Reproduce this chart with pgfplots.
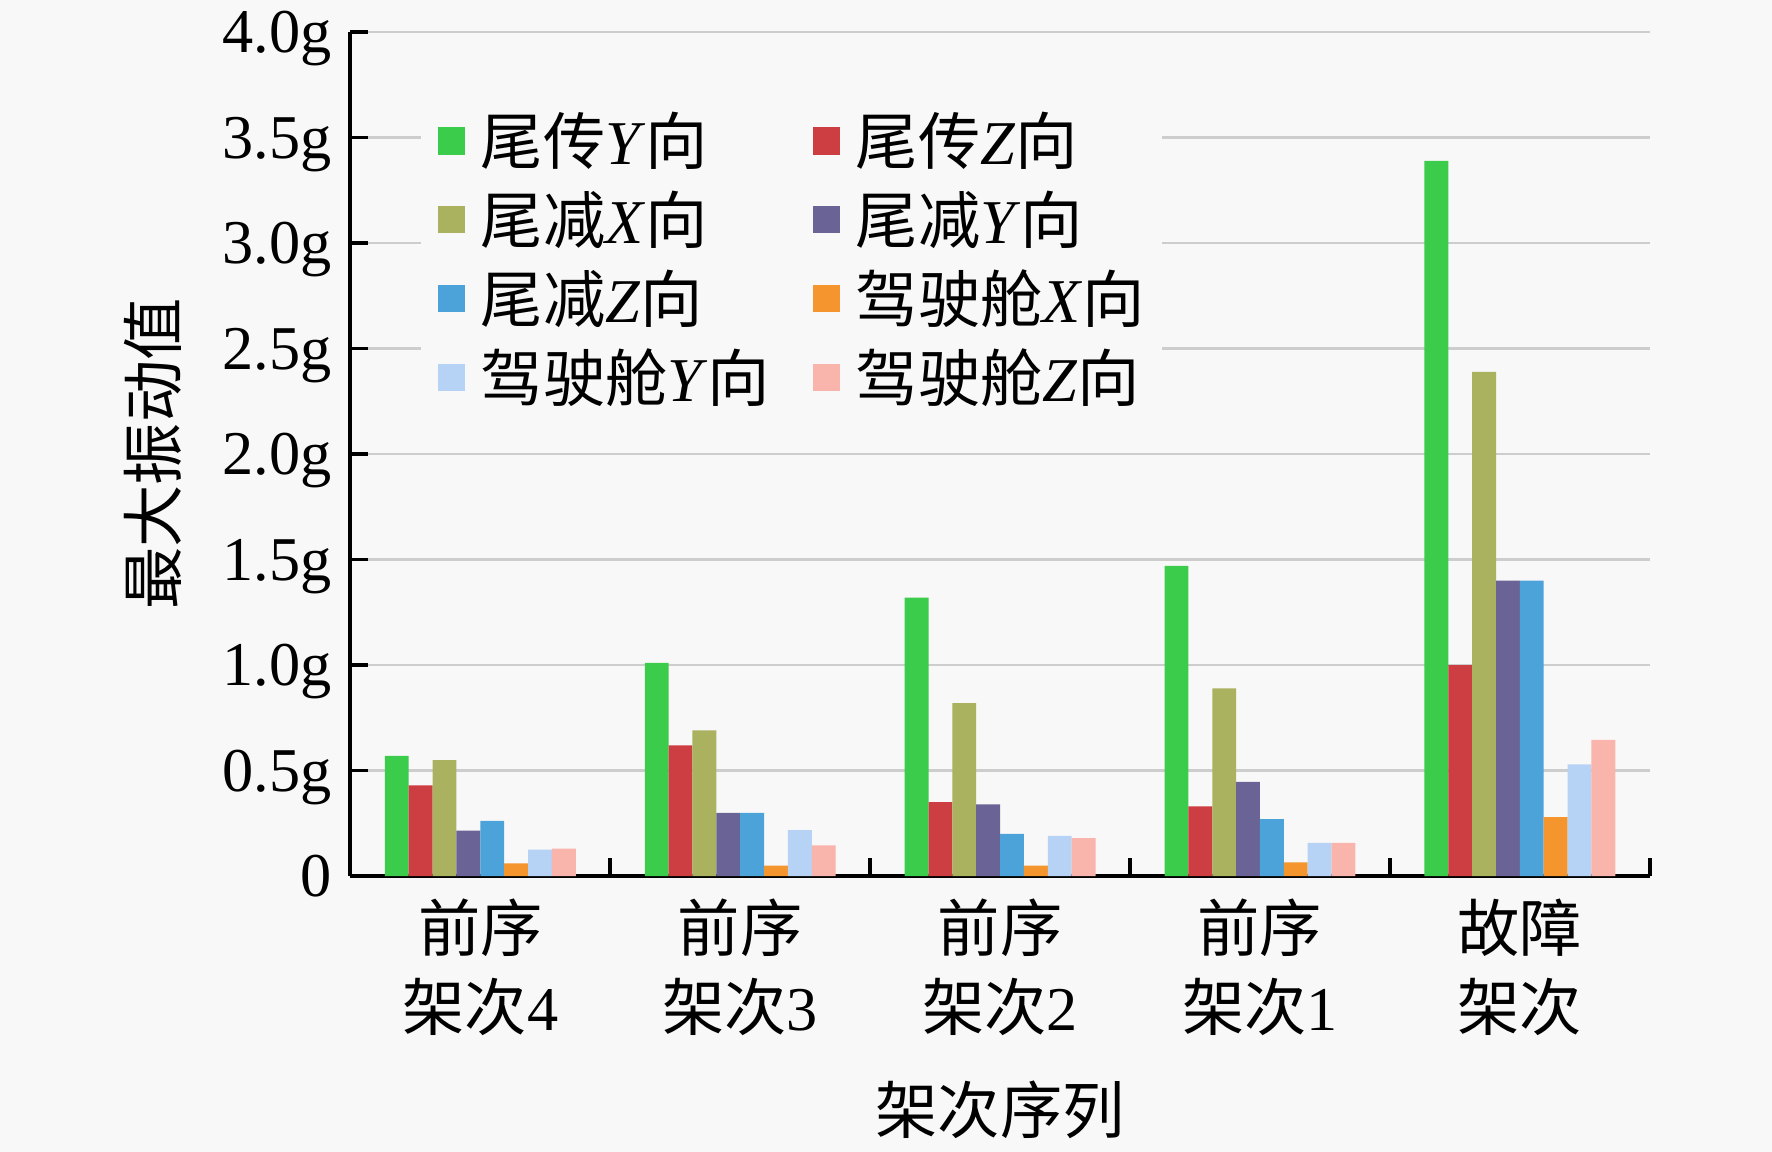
\documentclass[border=0pt]{standalone}
\usepackage{pgfplots}
\pgfplotsset{compat=1.18}
\usepackage{fontspec}
\setmainfont{Liberation Serif}
\newfontfamily\cjk{Noto Sans CJK SC}
\newcommand{\zh}[1]{{\cjk #1}}
\definecolor{bg}{RGB}{248,248,248}
\definecolor{gridc}{RGB}{205,205,205}
\definecolor{c1}{RGB}{60,204,76}
\definecolor{c2}{RGB}{205,62,66}
\definecolor{c3}{RGB}{170,178,95}
\definecolor{c4}{RGB}{106,100,150}
\definecolor{c5}{RGB}{75,163,218}
\definecolor{c6}{RGB}{244,150,45}
\definecolor{c7}{RGB}{182,210,244}
\definecolor{c8}{RGB}{249,180,172}
\begin{document}
\begin{tikzpicture}[font=\fontsize{15}{19}\selectfont]
\path[fill=bg, use as bounding box] (-2.966cm,-2.335cm) rectangle (12.034cm,7.416cm);
\begin{axis}[
  at={(0,0)}, anchor=south west,
  scale only axis, width=11.0cm, height=7.145cm,
  ybar=0pt, bar width=0.202cm,
  xmin=-0.5, xmax=4.5, ymin=0, ymax=4,
  axis lines=left,
  axis line style={line width=1pt, -},
  tick align=inside,
  major tick length=0.15cm,
  every tick/.style={black, line width=0.9pt},
  xtick={-0.5,0.5,1.5,2.5,3.5,4.5},
  x tick label as interval,
  xticklabels={{\zh{前序}\\\zh{架次}4},{\zh{前序}\\\zh{架次}3},{\zh{前序}\\\zh{架次}2},{\zh{前序}\\\zh{架次}1},{\zh{故障}\\\zh{架次}}},
  xticklabel style={align=center, yshift=-2pt},
  ytick={0,0.5,1,1.5,2,2.5,3,3.5,4},
  yticklabels={0,0.5g,1.0g,1.5g,2.0g,2.5g,3.0g,3.5g,4.0g},
  yticklabel style={text depth=0pt, xshift=-0.035cm},
  ymajorgrids,
  grid style={draw=gridc, line width=0.6pt},
  xlabel={\zh{架次序列}},
  xlabel style={at={(axis description cs:0.5,0)}, anchor=center, yshift=-1.98cm},
  ylabel={\zh{最大振动值}},
  ylabel style={at={([xshift=-1.675cm]axis description cs:0,0.5)}, anchor=center},
  legend columns=2,
  legend cell align=left,
  legend style={at={(axis description cs:0.0539,0.9285)}, anchor=north west,
    draw=none, fill=bg, inner sep=4pt, row sep=4pt,
    nodes={inner sep=0pt, text height=13.2pt, text depth=1.8pt},
    /tikz/every odd column/.append style={column sep=0.135cm},
    /tikz/every even column/.append style={column sep=0.36cm}},
  legend image code/.code={\fill[#1, draw=none] (0cm,-0.115cm) rectangle (0.23cm,0.115cm);},
]
\addplot[fill=c1, draw=none] coordinates {(0,0.57) (1,1.01) (2,1.32) (3,1.47) (4,3.39)};
\addlegendentry{\zh{尾传}\textit{Y}\zh{向}}
\addplot[fill=c2, draw=none] coordinates {(0,0.43) (1,0.62) (2,0.35) (3,0.33) (4,1.00)};
\addlegendentry{\zh{尾传}\textit{Z}\zh{向}}
\addplot[fill=c3, draw=none] coordinates {(0,0.55) (1,0.69) (2,0.82) (3,0.89) (4,2.39)};
\addlegendentry{\zh{尾减}\textit{X}\zh{向}}
\addplot[fill=c4, draw=none] coordinates {(0,0.215) (1,0.30) (2,0.34) (3,0.447) (4,1.40)};
\addlegendentry{\zh{尾减}\textit{Y}\zh{向}}
\addplot[fill=c5, draw=none] coordinates {(0,0.262) (1,0.30) (2,0.20) (3,0.27) (4,1.40)};
\addlegendentry{\zh{尾减}\textit{Z}\zh{向}}
\addplot[fill=c6, draw=none] coordinates {(0,0.06) (1,0.05) (2,0.05) (3,0.065) (4,0.28)};
\addlegendentry{\zh{驾驶舱}\textit{X}\zh{向}}
\addplot[fill=c7, draw=none] coordinates {(0,0.125) (1,0.218) (2,0.19) (3,0.157) (4,0.53)};
\addlegendentry{\zh{驾驶舱}\textit{Y}\zh{向}}
\addplot[fill=c8, draw=none] coordinates {(0,0.13) (1,0.145) (2,0.18) (3,0.157) (4,0.645)};
\addlegendentry{\zh{驾驶舱}\textit{Z}\zh{向}}
\end{axis}
\end{tikzpicture}
\end{document}
